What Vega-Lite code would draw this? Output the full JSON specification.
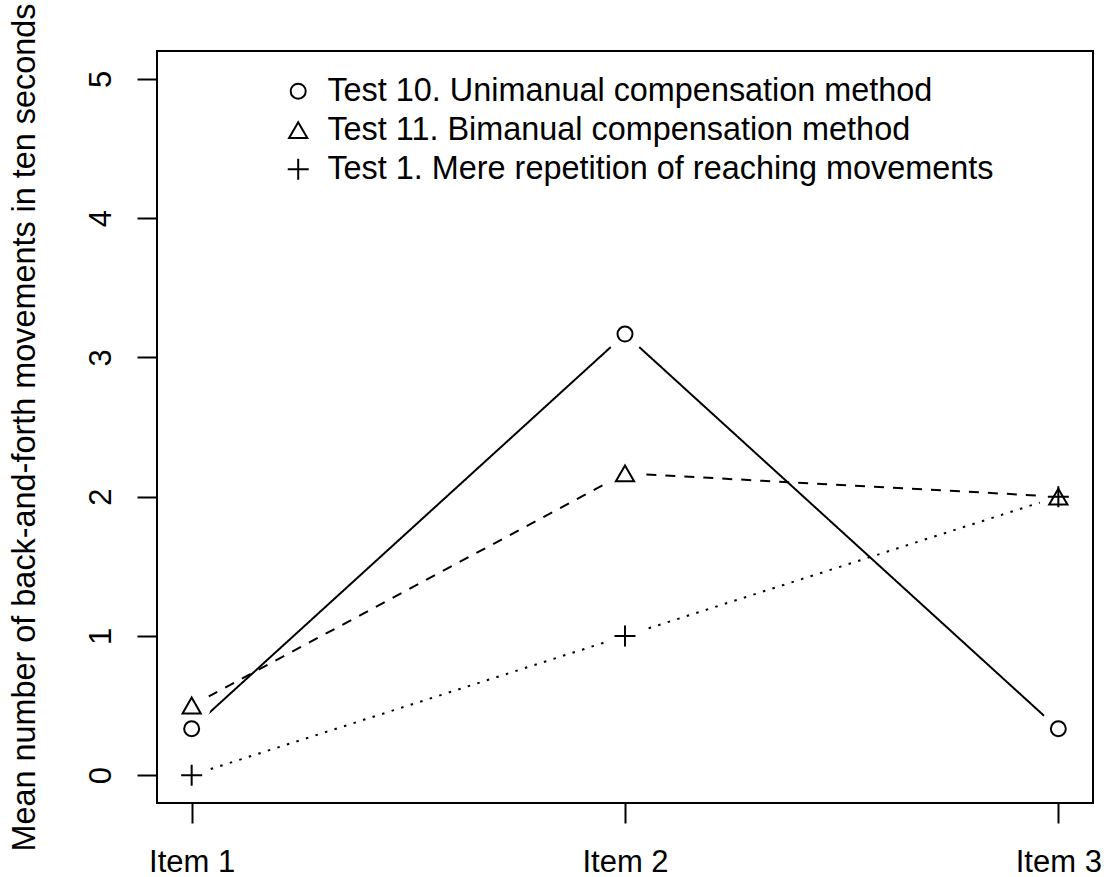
{
  "$schema": "https://vega.github.io/schema/vega-lite/v6.json",
  "width": 936,
  "height": 752,
  "autosize": "none",
  "padding": {"left": 157, "top": 51, "right": 19, "bottom": 74},
  "background": "white",
  "config": {
    "font": "Liberation Sans",
    "view": {"stroke": "black", "strokeWidth": 2},
    "axis": {
      "grid": false,
      "domain": false,
      "tickColor": "black",
      "tickWidth": 2,
      "tickSize": 20,
      "labelFontSize": 31,
      "labelColor": "black",
      "labelFont": "Liberation Sans",
      "titleFont": "Liberation Sans",
      "titleFontSize": 32.4,
      "titleFontWeight": "normal",
      "titleColor": "black"
    }
  },
  "data": {
    "values": [
      {"series": "Test 10. Unimanual compensation method", "item": 1, "value": 0.333},
      {"series": "Test 10. Unimanual compensation method", "item": 2, "value": 3.167},
      {"series": "Test 10. Unimanual compensation method", "item": 3, "value": 0.333},
      {"series": "Test 11. Bimanual compensation method", "item": 1, "value": 0.5},
      {"series": "Test 11. Bimanual compensation method", "item": 2, "value": 2.167},
      {"series": "Test 11. Bimanual compensation method", "item": 3, "value": 2.0},
      {"series": "Test 1. Mere repetition of reaching movements", "item": 1, "value": 0},
      {"series": "Test 1. Mere repetition of reaching movements", "item": 2, "value": 1},
      {"series": "Test 1. Mere repetition of reaching movements", "item": 3, "value": 2}
    ]
  },
  "encoding": {
    "x": {
      "field": "item",
      "type": "quantitative",
      "scale": {"domain": [0.92, 3.08], "nice": false, "zero": false},
      "axis": {"values": [1, 2, 3], "labelExpr": "'Item ' + datum.value", "title": null, "labelPadding": 24, "labelFlush": false}
    },
    "y": {
      "field": "value",
      "type": "quantitative",
      "scale": {"domain": [-0.2, 5.2], "nice": false, "zero": false},
      "axis": {
        "values": [0, 1, 2, 3, 4, 5],
        "labelAngle": -90,
        "labelAlign": "center",
        "labelBaseline": "bottom",
        "labelPadding": 20,
        "title": "Mean number of back-and-forth movements in ten seconds",
        "titlePadding": 44
      }
    }
  },
  "layer": [
    {
      "mark": {"type": "line", "color": "black", "strokeWidth": 2},
      "encoding": {
        "strokeDash": {
          "field": "series",
          "type": "nominal",
          "scale": {
            "domain": ["Test 1. Mere repetition of reaching movements", "Test 10. Unimanual compensation method", "Test 11. Bimanual compensation method"],
            "range": [[2.5, 7.5], [1, 0], [10, 9]]
          },
          "legend": null
        }
      }
    },
    {
      "mark": {"type": "point", "filled": true, "color": "white", "opacity": 1, "size": 1500, "shape": "circle"},
      "encoding": {}
    },
    {
      "mark": {"type": "point", "filled": false, "color": "black", "strokeWidth": 2, "opacity": 1},
      "encoding": {
        "shape": {
          "field": "series",
          "type": "nominal",
          "scale": {
            "domain": ["Test 10. Unimanual compensation method", "Test 11. Bimanual compensation method", "Test 1. Mere repetition of reaching movements"],
            "range": ["circle", "triangle-up", "M-1,0H1M0,-1V1"]
          },
          "legend": {
            "title": null,
            "orient": "none",
            "legendX": 125,
            "legendY": 24,
            "padding": 0,
            "labelFontSize": 32.4,
            "labelColor": "black",
            "labelFont": "Liberation Sans",
            "labelOffset": 13,
            "rowPadding": 6,
            "symbolStrokeColor": "black",
            "symbolStrokeWidth": 2,
            "labelLimit": 1000
          }
        },
        "size": {
          "field": "series",
          "type": "nominal",
          "scale": {
            "domain": ["Test 10. Unimanual compensation method", "Test 11. Bimanual compensation method", "Test 1. Mere repetition of reaching movements"],
            "range": [225, 441, 441]
          },
          "legend": {
            "title": null,
            "orient": "none",
            "legendX": 125,
            "legendY": 24,
            "padding": 0,
            "labelFontSize": 32.4,
            "labelColor": "black",
            "labelFont": "Liberation Sans",
            "labelOffset": 13,
            "rowPadding": 6,
            "symbolStrokeColor": "black",
            "symbolStrokeWidth": 2,
            "labelLimit": 1000
          }
        }
      }
    }
  ]
}
